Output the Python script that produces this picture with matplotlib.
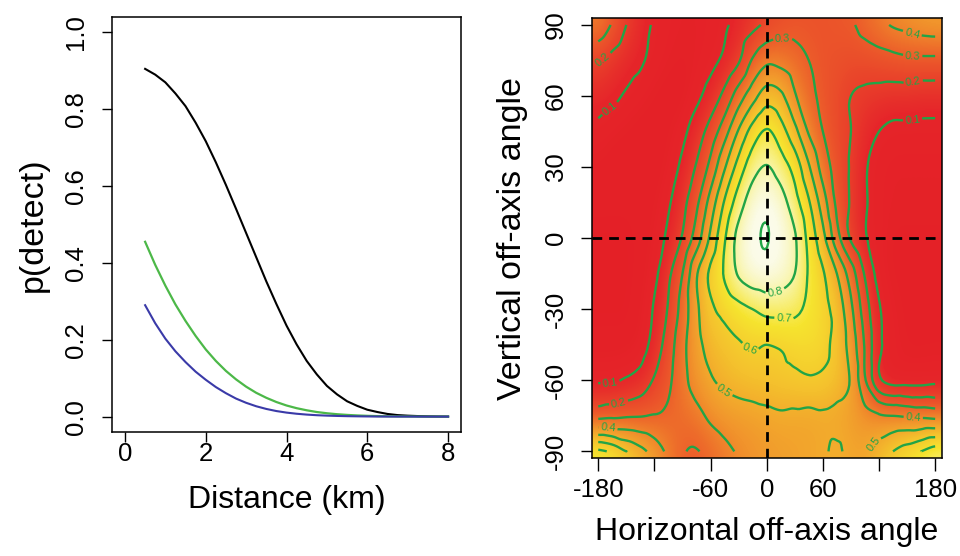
import numpy as np
import matplotlib.pyplot as plt
import matplotlib.tri as mtri
from matplotlib.colors import LinearSegmentedColormap, Normalize

plt.rcParams['font.family'] = ['Liberation Sans', 'DejaVu Sans']
plt.rcParams['axes.unicode_minus'] = False

# ---- left panel: p(detect) against distance ----
distance_km = [0.5, 0.75, 1.0, 1.25, 1.5, 1.75, 2.0, 2.25, 2.5, 2.75, 3.0,
               3.25, 3.5, 3.75, 4.0, 4.25, 4.5, 4.75, 5.0, 5.25, 5.5,
               5.75, 6.0, 6.25, 6.5, 6.75, 7.0, 7.25, 7.5, 7.75, 8.0]
p_black = [0.905, 0.890, 0.870, 0.841, 0.808, 0.765, 0.717, 0.662, 0.603, 0.541, 0.478,
           0.415, 0.352, 0.293, 0.237, 0.188, 0.145, 0.110, 0.080, 0.058, 0.040,
           0.028, 0.018, 0.012, 0.007, 0.004, 0.0025, 0.0015, 0.0008, 0.0004, 0.0002]
p_green = [0.455, 0.395, 0.341, 0.292, 0.249, 0.21, 0.175, 0.145, 0.119, 0.097, 0.078,
           0.062, 0.049, 0.038, 0.029, 0.022, 0.0165, 0.012, 0.0088, 0.0063, 0.0045,
           0.0031, 0.0021, 0.0014, 0.0009, 0.0006, 0.0004, 0.0002, 0.0001, 0.0001, 0.0]
p_blue = [0.29, 0.243, 0.203, 0.17, 0.142, 0.117, 0.096, 0.077, 0.061, 0.047, 0.036,
          0.027, 0.02, 0.0145, 0.0105, 0.0075, 0.0053, 0.0037, 0.0026, 0.0018, 0.0012,
          0.0008, 0.0005, 0.0003, 0.0002, 0.0001, 0.0001, 0.0, 0.0, 0.0, 0.0]

# ---- right panel: p(detect) against off-axis angle ----
h_angle = [-180, -165, -150, -135, -120, -105, -90, -75, -60, -45, -30, -15, 0,
           15, 30, 45, 60, 75, 90, 105, 120, 135, 150, 165, 180]
v_angle = [90, 75, 60, 45, 30, 15, 0, -15, -30, -45, -60, -75, -90]
p_angle = np.array([
    [0.38, 0.29, 0.20, 0.14, 0.09, 0.07, 0.06, 0.06, 0.07, 0.09, 0.13, 0.17, 0.22, 0.25, 0.27, 0.27, 0.27, 0.28, 0.29, 0.33, 0.37, 0.41, 0.43, 0.45, 0.46],
    [0.21, 0.17, 0.14, 0.11, 0.08, 0.06, 0.05, 0.06, 0.08, 0.12, 0.19, 0.31, 0.38, 0.37, 0.34, 0.30, 0.27, 0.26, 0.25, 0.25, 0.26, 0.27, 0.28, 0.28, 0.28],
    [0.14, 0.12, 0.09, 0.07, 0.05, 0.04, 0.04, 0.08, 0.14, 0.23, 0.35, 0.46, 0.55, 0.52, 0.41, 0.33, 0.28, 0.24, 0.20, 0.18, 0.17, 0.16, 0.16, 0.15, 0.15],
    [0.08, 0.06, 0.05, 0.04, 0.04, 0.05, 0.08, 0.15, 0.24, 0.36, 0.51, 0.64, 0.71, 0.64, 0.53, 0.39, 0.30, 0.24, 0.20, 0.14, 0.10, 0.08, 0.08, 0.08, 0.08],
    [0.05, 0.04, 0.04, 0.04, 0.04, 0.06, 0.12, 0.21, 0.33, 0.49, 0.64, 0.76, 0.805, 0.75, 0.66, 0.51, 0.36, 0.26, 0.19, 0.11, 0.07, 0.06, 0.06, 0.06, 0.06],
    [0.04, 0.04, 0.04, 0.04, 0.05, 0.09, 0.17, 0.28, 0.44, 0.61, 0.75, 0.85, 0.88, 0.84, 0.74, 0.61, 0.45, 0.28, 0.19, 0.11, 0.07, 0.06, 0.06, 0.06, 0.06],
    [0.03, 0.03, 0.03, 0.04, 0.06, 0.12, 0.21, 0.35, 0.52, 0.69, 0.83, 0.885, 0.902, 0.87, 0.81, 0.67, 0.53, 0.34, 0.19, 0.11, 0.07, 0.05, 0.05, 0.05, 0.05],
    [0.03, 0.03, 0.03, 0.04, 0.08, 0.18, 0.30, 0.49, 0.62, 0.71, 0.81, 0.86, 0.87, 0.85, 0.80, 0.69, 0.61, 0.50, 0.35, 0.19, 0.07, 0.05, 0.05, 0.05, 0.05],
    [0.03, 0.03, 0.03, 0.05, 0.11, 0.21, 0.34, 0.48, 0.58, 0.63, 0.67, 0.70, 0.73, 0.73, 0.72, 0.68, 0.63, 0.56, 0.42, 0.25, 0.11, 0.06, 0.05, 0.05, 0.05],
    [0.04, 0.04, 0.04, 0.06, 0.14, 0.25, 0.37, 0.47, 0.53, 0.56, 0.59, 0.61, 0.60, 0.61, 0.63, 0.64, 0.63, 0.56, 0.46, 0.29, 0.12, 0.07, 0.05, 0.05, 0.05],
    [0.09, 0.09, 0.11, 0.14, 0.21, 0.28, 0.37, 0.44, 0.49, 0.52, 0.54, 0.55, 0.56, 0.57, 0.58, 0.59, 0.58, 0.55, 0.49, 0.31, 0.12, 0.07, 0.07, 0.07, 0.08],
    [0.27, 0.28, 0.29, 0.295, 0.305, 0.32, 0.34, 0.37, 0.42, 0.45, 0.46, 0.47, 0.48, 0.49, 0.485, 0.48, 0.49, 0.48, 0.46, 0.43, 0.41, 0.40, 0.39, 0.38, 0.37],
    [0.72, 0.68, 0.60, 0.53, 0.46, 0.38, 0.31, 0.295, 0.33, 0.37, 0.41, 0.43, 0.45, 0.46, 0.47, 0.48, 0.49, 0.51, 0.48, 0.48, 0.54, 0.60, 0.65, 0.70, 0.75],
])
contour_levels = [0.1, 0.2, 0.3, 0.4, 0.5, 0.6, 0.7, 0.8, 0.9]

# where the contour labels sit
label_spots = [(-170, 73), (-168, 55), (18, 82), (156, 87), (156, 78), (156, 67),
               (156, 50), (10, -25), (18, -36), (-17, -46), (-41, -62),
               (-167, -63), (-158, -70), (-170, -81), (156, -78), (118, -88)]

heat = LinearSegmentedColormap.from_list('heat', [
    (0.00, '#e41f26'), (0.13, '#e6262a'), (0.32, '#ec5b2a'), (0.47, '#f1942c'),
    (0.60, '#f4c02d'), (0.73, '#f6e42f'), (0.84, '#f8f39a'), (0.94, '#fbfbe6'),
    (1.00, '#fdfdf5')])
green = '#22a447'

fig = plt.figure(figsize=(9.6, 5.56), dpi=100)

# ---------------- left panel ----------------
ax1 = fig.add_axes([112 / 960, 1 - 432 / 556, 349 / 960, 415 / 556])
ax1.plot(distance_km, p_black, color='black', lw=1.5)
ax1.plot(distance_km, p_green, color='#4cb848', lw=1.6)
ax1.plot(distance_km, p_blue, color='#3a3aa8', lw=1.5)
ax1.set_xlim(-0.32, 8.32)
ax1.set_ylim(-0.04, 1.04)
ax1.set_xticks([0, 2, 4, 6, 8])
ax1.set_yticks([0.0, 0.2, 0.4, 0.6, 0.8, 1.0])
ax1.set_yticklabels(['0.0', '0.2', '0.4', '0.6', '0.8', '1.0'])
ax1.tick_params(axis='x', labelsize=18.5, length=7, width=1, pad=0.5)
ax1.tick_params(axis='y', labelsize=18.5, length=7, width=1, pad=10, labelrotation=90)
for yl in ax1.get_yticklabels():
    yl.set_va('center')
ax1.set_xlabel('Distance (km)', fontsize=23)
ax1.xaxis.set_label_coords(0.5, -0.128)
ax1.set_ylabel('p(detect)', fontsize=24.5)
ax1.yaxis.set_label_coords(-0.18, 0.5)
for s in ax1.spines.values():
    s.set_linewidth(1.1)

# ---------------- right panel ----------------
ax2 = fig.add_axes([591.7 / 960, 1 - 458 / 556, 350 / 960, 439.7 / 556])
norm = Normalize(vmin=0, vmax=0.92)
ax2.imshow(p_angle, extent=(-187.5, 187.5, -97.5, 97.5), origin='upper',
           cmap=heat, norm=norm, interpolation='bicubic',
           interpolation_stage='data', aspect='auto')

H, V = np.meshgrid(h_angle, v_angle)
tri = mtri.Triangulation(H.ravel(), V.ravel())
interp = mtri.CubicTriInterpolator(tri, p_angle.ravel(), kind='geom')
refiner = mtri.UniformTriRefiner(tri)
tri_f, z_f = refiner.refine_field(p_angle.ravel(), triinterpolator=interp, subdiv=3)
cs = ax2.tricontour(tri_f, z_f, levels=contour_levels, colors=green, linewidths=1.7)
ax2.clabel(cs, fmt='%.1f', fontsize=8, inline=True, inline_spacing=2,
           manual=label_spots)

ax2.axvline(0, color='black', lw=2, linestyle=(0, (3.5, 2.5)))
ax2.axhline(0, color='black', lw=2, linestyle=(0, (3.5, 2.5)))

ax2.set_xlim(-187, 187)
ax2.set_ylim(-92.8, 92.8)
ax2.set_xticks([-180, -120, -60, 0, 60, 120, 180])
ax2.set_xticklabels(['-180', '', '-60', '0', '60', '', '180'])
ax2.set_yticks([-90, -60, -30, 0, 30, 60, 90])
ax2.set_yticklabels(['-90', '-60', '-30', '0', '30', '60', '90'])
ax2.tick_params(axis='x', labelsize=18.5, length=9, width=1, pad=5.5)
ax2.tick_params(axis='y', labelsize=18.5, length=8, width=1, pad=9.4, labelrotation=90)
for yl in ax2.get_yticklabels():
    yl.set_va('center')
ax2.set_xlabel('Horizontal off-axis angle', fontsize=23)
ax2.xaxis.set_label_coords(0.5, -0.134)
ax2.set_ylabel('Vertical off-axis angle', fontsize=24.5)
ax2.yaxis.set_label_coords(-0.183, 0.5)
for s in ax2.spines.values():
    s.set_linewidth(1.1)

fig.savefig('out.png', dpi=100)
